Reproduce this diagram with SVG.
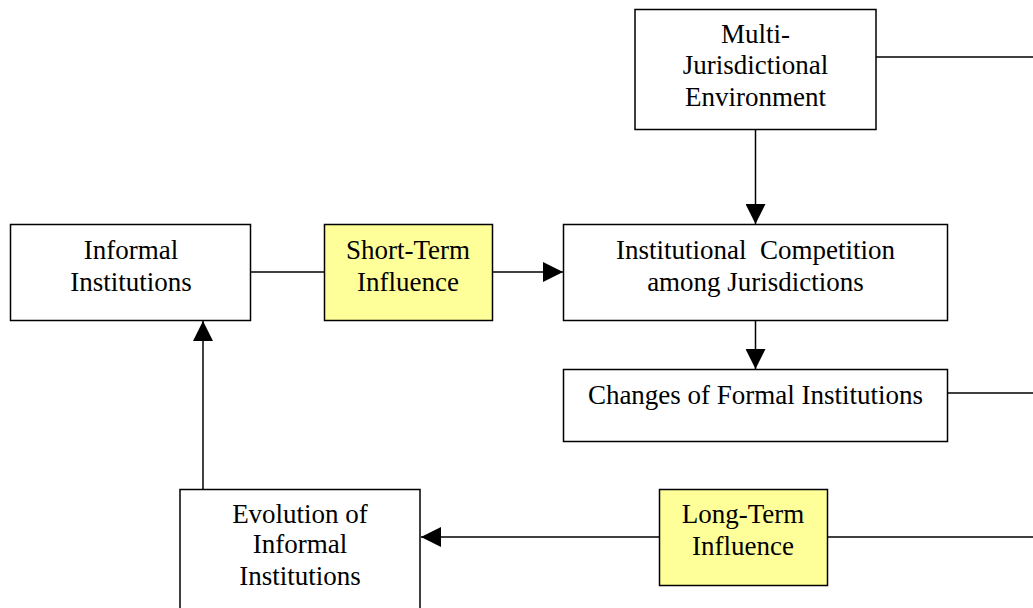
<svg xmlns="http://www.w3.org/2000/svg" width="1033" height="608" viewBox="0 0 1033 608">
<style>
.box{fill:#fff;stroke:#000;stroke-width:1.5}
.hl{fill:#ffff99;stroke:#000;stroke-width:1.5}
.t{font-family:"Liberation Serif","Times New Roman",serif;font-size:27px;fill:#000;text-anchor:middle;white-space:pre}
.c{stroke:#000;stroke-width:1.5;fill:none}
</style>
<defs>
<marker id="ah" viewBox="0 0 20 20" refX="20" refY="10" markerWidth="20" markerHeight="20" markerUnits="userSpaceOnUse" orient="auto">
<path d="M0,0 L20,10 L0,20 Z" fill="#000"/>
</marker>
</defs>
<g id="connectors">
<line class="c" x1="876" y1="57" x2="1033" y2="57"/>
<line class="c" x1="755.5" y1="130" x2="755.5" y2="224" marker-end="url(#ah)"/>
<line class="c" x1="755.5" y1="321" x2="755.5" y2="369" marker-end="url(#ah)"/>
<line class="c" x1="948" y1="393" x2="1033" y2="393"/>
<line class="c" x1="251" y1="272" x2="324" y2="272"/>
<line class="c" x1="492" y1="272" x2="563" y2="272" marker-end="url(#ah)"/>
<line class="c" x1="1033" y1="537" x2="828" y2="537"/>
<line class="c" x1="659" y1="537" x2="421" y2="537" marker-end="url(#ah)"/>
<line class="c" x1="203" y1="489" x2="203" y2="321" marker-end="url(#ah)"/>
</g>
<g id="multi">
<rect class="box" x="635" y="9.5" width="241" height="120"/>
<text class="t" x="755.5" y="43">Multi-</text>
<text class="t" x="755.5" y="74">Jurisdictional</text>
<text class="t" x="755.5" y="106">Environment</text>
</g>
<g id="informal">
<rect class="box" x="10.5" y="224.5" width="240" height="96"/>
<text class="t" x="131" y="259">Informal</text>
<text class="t" x="131" y="291">Institutions</text>
</g>
<g id="short">
<rect class="hl" x="324.5" y="224.5" width="168" height="96"/>
<text class="t" x="408" y="259">Short-Term</text>
<text class="t" x="408" y="291">Influence</text>
</g>
<g id="competition">
<rect class="box" x="563.5" y="224.5" width="384" height="96"/>
<text class="t" x="755.5" y="259">Institutional  Competition</text>
<text class="t" x="755.5" y="291">among Jurisdictions</text>
</g>
<g id="changes">
<rect class="box" x="563.5" y="369.5" width="384" height="72"/>
<text class="t" x="755.5" y="404">Changes of Formal Institutions</text>
</g>
<g id="longterm">
<rect class="hl" x="659.5" y="489.5" width="168" height="96"/>
<text class="t" x="743" y="523">Long-Term</text>
<text class="t" x="743" y="555">Influence</text>
</g>
<g id="evolution">
<rect class="box" x="180" y="489.5" width="240" height="130"/>
<text class="t" x="300" y="523">Evolution of</text>
<text class="t" x="300" y="553">Informal</text>
<text class="t" x="300" y="585">Institutions</text>
</g>
</svg>
